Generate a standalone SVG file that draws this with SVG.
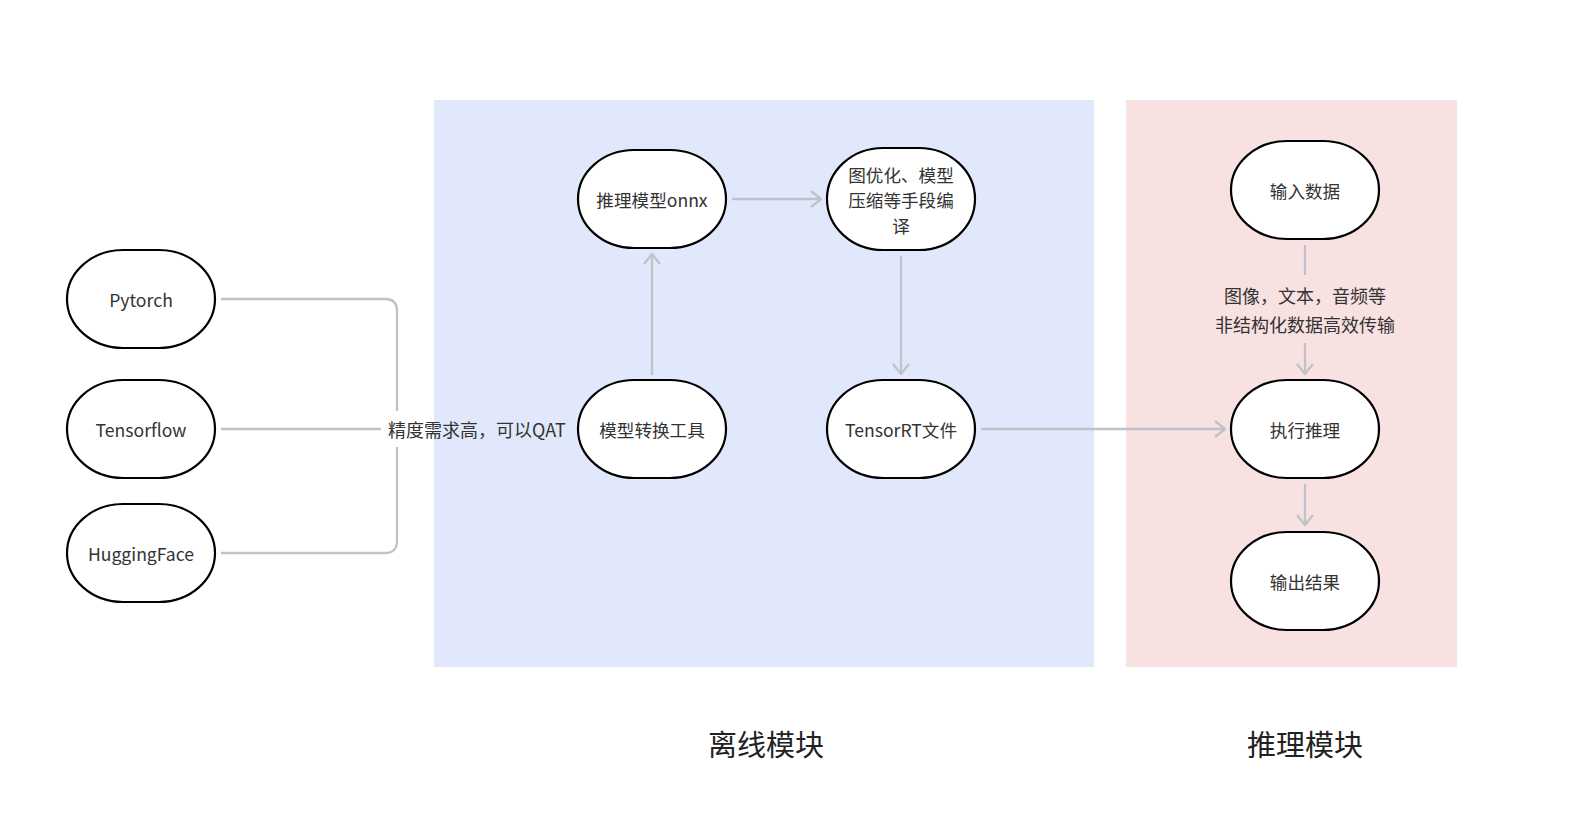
<svg xmlns="http://www.w3.org/2000/svg" width="1574" height="826" viewBox="0 0 1574 826">
<style>
.node rect{fill:#fff;stroke:#000;stroke-width:2.2}
.t{font-family:"Noto Sans CJK SC","Noto Sans",sans-serif;font-size:17.6px;fill:#333;text-anchor:middle;dominant-baseline:central}
.lbl{font-family:"Noto Sans CJK SC","Noto Sans",sans-serif;font-size:18px;fill:#333;text-anchor:middle;dominant-baseline:central}
.title{font-family:"Noto Sans CJK SC","Noto Sans",sans-serif;font-size:29px;fill:#222;text-anchor:middle;dominant-baseline:central}
.c{fill:none;stroke:#bfc3c9;stroke-width:2.3}
</style>
<defs>
<marker id="ah" viewBox="0 0 12 18" refX="11" refY="9" markerWidth="12" markerHeight="18" markerUnits="userSpaceOnUse" orient="auto">
<path d="M1,1 L11,9 L1,17" fill="none" stroke="#bfc3c9" stroke-width="2.3"/>
</marker>
</defs>
<rect width="1574" height="826" fill="#fff"/>
<rect x="434" y="100" width="660" height="567" fill="#e2e8fb"/>
<rect x="1126" y="100" width="331" height="567" fill="#f8e1e1"/>
<text class="title" x="766" y="743">离线模块</text>
<text class="title" x="1305" y="743">推理模块</text>
<g id="connectors">
<path class="c" d="M221,299 H385 Q397,299 397,311 V411"/>
<path class="c" d="M221,553 H385 Q397,553 397,541 V447"/>
<path class="c" d="M221,429 H381"/>
<path class="c" d="M652,375 V254" marker-end="url(#ah)"/>
<path class="c" d="M732,199 H821" marker-end="url(#ah)"/>
<path class="c" d="M901,256 V374" marker-end="url(#ah)"/>
<path class="c" d="M981,429 H1225" marker-end="url(#ah)"/>
<path class="c" d="M1305,245 V275"/>
<path class="c" d="M1305,343 V374" marker-end="url(#ah)"/>
<path class="c" d="M1305,484 V525" marker-end="url(#ah)"/>
<text class="lbl" x="477" y="429">精度需求高，可以QAT</text>
<text class="lbl" x="1305" y="295">图像，文本，音频等</text>
<text class="lbl" x="1305" y="324">非结构化数据高效传输</text>
</g>
<g id="pytorch" class="node"><rect x="67" y="250" width="148" height="98" rx="56" ry="49"/><text class="t" x="141" y="299">Pytorch</text></g>
<g id="tensorflow" class="node"><rect x="67" y="380" width="148" height="98" rx="56" ry="49"/><text class="t" x="141" y="429">Tensorflow</text></g>
<g id="huggingface" class="node"><rect x="67" y="504" width="148" height="98" rx="56" ry="49"/><text class="t" x="141" y="553">HuggingFace</text></g>
<g id="onnx" class="node"><rect x="578" y="150" width="148" height="98" rx="56" ry="49"/><text class="t" x="652" y="199">推理模型onnx</text></g>
<g id="graphopt" class="node"><rect x="827" y="148" width="148" height="102" rx="56" ry="51"/><text class="t" x="901" y="174">图优化、模型</text><text class="t" x="901" y="199">压缩等手段编</text><text class="t" x="901" y="225">译</text></g>
<g id="convert" class="node"><rect x="578" y="380" width="148" height="98" rx="56" ry="49"/><text class="t" x="652" y="429">模型转换工具</text></g>
<g id="tensorrt" class="node"><rect x="827" y="380" width="148" height="98" rx="56" ry="49"/><text class="t" x="901" y="429">TensorRT文件</text></g>
<g id="input" class="node"><rect x="1231" y="141" width="148" height="98" rx="56" ry="49"/><text class="t" x="1305" y="190">输入数据</text></g>
<g id="infer" class="node"><rect x="1231" y="380" width="148" height="98" rx="56" ry="49"/><text class="t" x="1305" y="429">执行推理</text></g>
<g id="output" class="node"><rect x="1231" y="532" width="148" height="98" rx="56" ry="49"/><text class="t" x="1305" y="581">输出结果</text></g>
</svg>
